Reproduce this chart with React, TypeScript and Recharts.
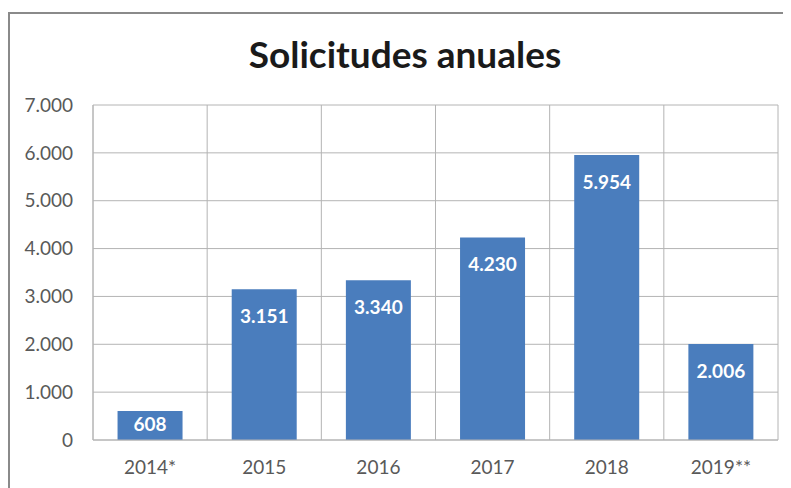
import { BarChart, Bar, XAxis, YAxis, CartesianGrid, LabelList } from "recharts";

const years = ["2014*", "2015", "2016", "2017", "2018", "2019**"];
const solicitudes = [608, 3151, 3340, 4230, 5954, 2006];
const yTicks = [0, 1000, 2000, 3000, 4000, 5000, 6000, 7000];

const data = years.map((year, i) => ({ year, value: solicitudes[i] }));

const FONT = "Lato, 'Open Sans', sans-serif";
const GRID = "#b4b4b4";

function miles(n: number) {
  return String(Math.round(n)).replace(/\B(?=(\d{3})+(?!\d))/g, ".");
}

function InsideLabel(props: any) {
  const { x, y, width, height, value } = props;
  const off = Math.min(27, height / 2 - 1);
  return (
    <text
      x={x + width / 2}
      y={y + off}
      dy="0.36em"
      textAnchor="middle"
      fill="#ffffff"
      fontFamily={FONT}
      fontWeight={700}
      fontSize={19}
    >
      {miles(value)}
    </text>
  );
}

export default function App() {
  return (
    <div style={{ position: "relative", width: 783, height: 480, background: "#fff", overflow: "hidden" }}>
      <div
        style={{
          position: "absolute",
          left: 0,
          top: 4,
          width: 800,
          height: 500,
          borderLeft: "2px solid #8a8a8a",
          borderTop: "2px solid #8a8a8a",
        }}
      />
      <div
        style={{
          position: "absolute",
          left: 0,
          top: 27,
          width: 794,
          textAlign: "center",
          fontFamily: FONT,
          fontWeight: 700,
          fontSize: 37,
          lineHeight: 1,
          color: "#1a1a1a",
        }}
      >
        Solicitudes anuales
      </div>
      <div style={{ position: "absolute", left: 0, top: 0 }}>
        <BarChart
          width={783}
          height={480}
          data={data}
          margin={{ top: 97, right: 13, bottom: 18, left: 0 }}
          barCategoryGap="21.5%"
        >
          <CartesianGrid
            stroke={GRID}
            verticalCoordinatesGenerator={({ offset }: any) =>
              years.map((_, i) => offset.left + (i * offset.width) / years.length).concat(offset.left + offset.width)
            }
          />
          <XAxis
            dataKey="year"
            height={30}
            tickLine={false}
            tickSize={0}
            tickMargin={21}
            axisLine={{ stroke: GRID }}
            tick={{ fill: "#595959", fontFamily: FONT, fontSize: 19 }}
          />
          <YAxis
            width={85}
            domain={[0, 7000]}
            ticks={yTicks}
            tickFormatter={miles}
            tickLine={false}
            tickSize={0}
            tickMargin={20}
            axisLine={{ stroke: GRID }}
            tick={{ fill: "#595959", fontFamily: FONT, fontSize: 19 }}
          />
          <Bar dataKey="value" fill="#4a7dbd" isAnimationActive={false}>
            <LabelList dataKey="value" content={InsideLabel} />
          </Bar>
        </BarChart>
      </div>
    </div>
  );
}
